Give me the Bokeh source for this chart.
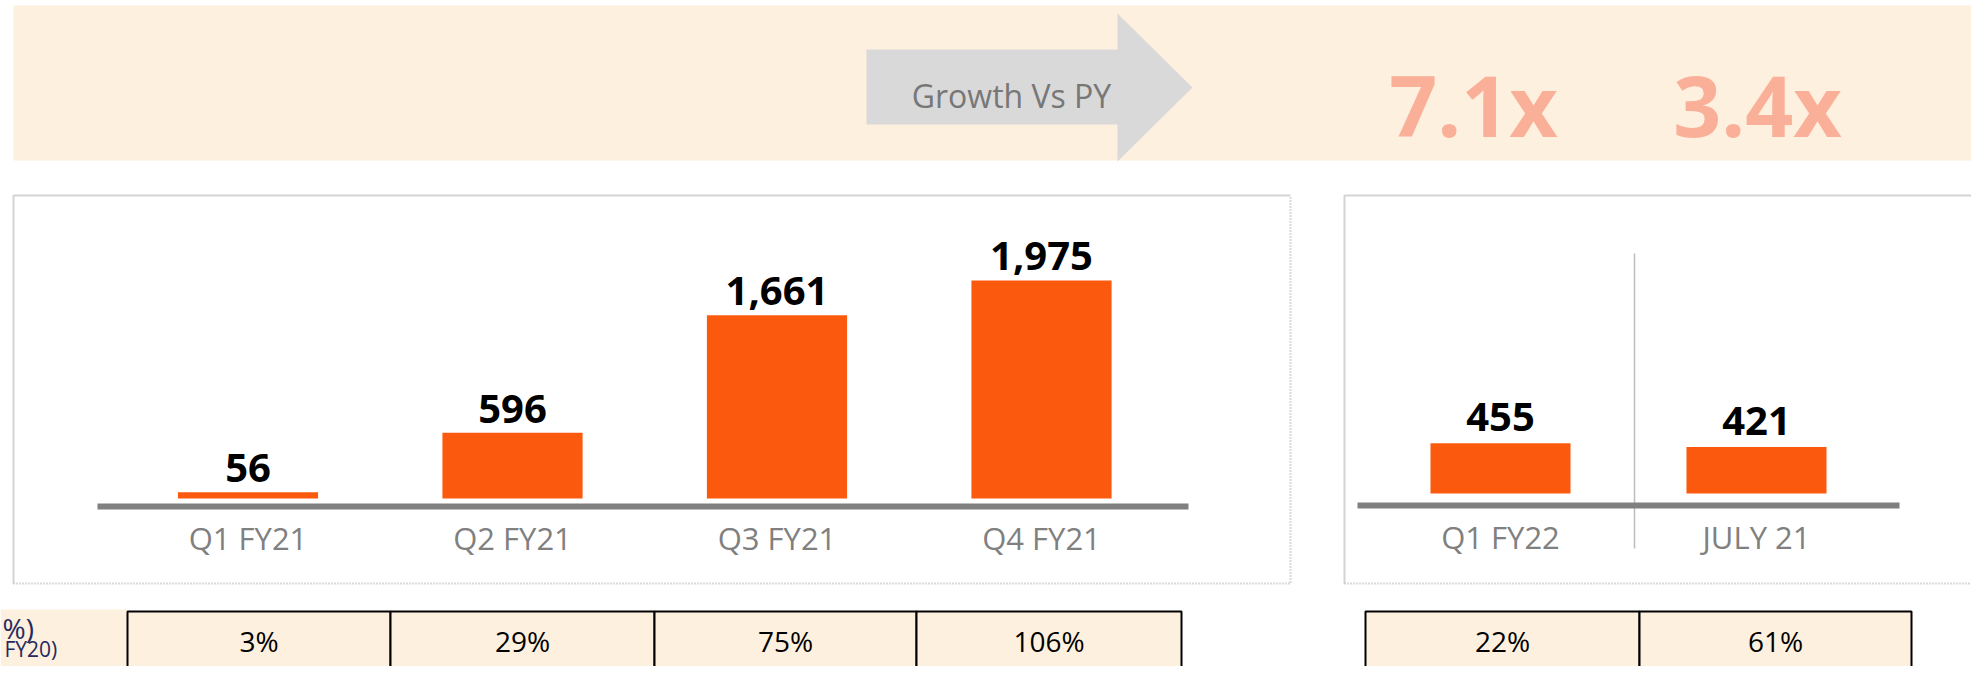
from bokeh.plotting import figure
from bokeh.models import Range1d, ColumnDataSource
from bokeh.core.properties import value
from bokeh.embed import file_html
from bokeh.resources import INLINE

# ---------------- data ----------------
fy21_quarters = ["Q1 FY21", "Q2 FY21", "Q3 FY21", "Q4 FY21"]
fy21_values = [56, 596, 1661, 1975]
fy21_growth = [3, 29, 75, 106]          # growth % vs FY20
recent_periods = ["Q1 FY22", "JULY 21"]
recent_values = [455, 421]
recent_growth = [22, 61]
growth_vs_py = ["7.1x", "3.4x"]
banner_text = "Growth Vs PY"
row_label = "%)"
row_sublabel = "FY20)"

# ---------------- layout / style ----------------
W, H = 1971, 666
PEACH = "#FEF0DE"
ORANGE = "#FB5A0E"
AXIS_GREY = "#808080"
FONT = value("Open Sans")


def X(sx):
    return sx


def Y(sy):
    return H - sy


p = figure(width=W, height=H, x_range=Range1d(0, W), y_range=Range1d(0, H),
           output_backend="svg", toolbar_location=None, min_border=0,
           x_axis_location=None, y_axis_location=None)
p.grid.visible = False
p.outline_line_color = None
p.background_fill_color = "white"
p.border_fill_color = "white"

# value scale: px per unit
K = 0.1104
# left chart ranges
l_c0, l_step = X(247.5), 264.5
p.extra_x_ranges["lx"] = Range1d(-l_c0 / l_step, -l_c0 / l_step + W / l_step)
l_zero = Y(498)
p.extra_y_ranges["lv"] = Range1d(-l_zero / K, -l_zero / K + H / K)
# right chart ranges
r_c0, r_step = X(1500), 256.0
p.extra_x_ranges["rx"] = Range1d(-r_c0 / r_step, -r_c0 / r_step + W / r_step)
r_zero = Y(493)
p.extra_y_ranges["rv"] = Range1d(-r_zero / K, -r_zero / K + H / K)

# ---------------- banner ----------------
p.quad(left=X(13), right=X(1995), top=Y(5), bottom=Y(160),
       fill_color=PEACH, line_color=None)
p.patch(x=[X(866), X(1117), X(1117), X(1192), X(1117), X(1117), X(866)],
        y=[Y(49), Y(49), Y(13), Y(87), Y(161), Y(124), Y(124)],
        fill_color="#D9D9D9", line_color=None)
p.text(x=[X(1011)], y=[Y(95)], text=[banner_text], text_font=FONT,
       text_font_size="32px", text_color="#777777", text_align="center",
       text_baseline="alphabetic")
p.text(x=[X(1473), X(1757)], y=[Y(104), Y(104)], text=growth_vs_py,
       text_font=FONT, text_font_size="84px", text_font_style="bold",
       text_color="#F9AF98", text_align="center", text_baseline="alphabetic")

# ---------------- panel frames ----------------
for (x0, x1) in [(13, 1290), (1344, 1999)]:
    p.line(x=[X(x0), X(x0), X(x1)], y=[Y(583), Y(195), Y(195)],
           line_color="#D4D4D4", line_width=2)
    p.line(x=[X(x0), X(x1), X(x1)], y=[Y(583), Y(583), Y(195)],
           line_color="#B5B5B5", line_width=2, line_dash="1 2")

# ---------------- left bar chart ----------------
lsrc = ColumnDataSource(dict(
    idx=list(range(len(fy21_quarters))),
    cat=fy21_quarters,
    val=fy21_values,
    lab=[f"{v:,}" for v in fy21_values],
    base=[Y(537)] * len(fy21_quarters),
))
p.vbar(x="idx", top="val", bottom=0, width=0.53, source=lsrc,
       x_range_name="lx", y_range_name="lv", fill_color=ORANGE, line_color=None)
p.text(x="idx", y="val", text="lab", source=lsrc, x_range_name="lx",
       y_range_name="lv", y_offset=-24, text_font=FONT, text_font_size="40px",
       text_font_style="bold", text_color="black", text_align="center",
       text_baseline="alphabetic")
p.text(x="idx", y="base", text="cat", source=lsrc, x_range_name="lx",
       text_font=FONT, text_font_size="31px", text_color=AXIS_GREY,
       text_align="center", text_baseline="middle")
p.line(x=[X(97), X(1188)], y=[Y(506), Y(506)], line_color=AXIS_GREY, line_width=6)

# ---------------- right bar chart ----------------
rsrc = ColumnDataSource(dict(
    idx=list(range(len(recent_periods))),
    cat=recent_periods,
    val=recent_values,
    lab=[f"{v:,}" for v in recent_values],
    base=[Y(536)] * len(recent_periods),
))
p.segment(x0=[X(1634)], y0=[Y(253)], x1=[X(1634)], y1=[Y(548)],
          line_color="#BDBDBD", line_width=1.5)
p.vbar(x="idx", top="val", bottom=0, width=0.547, source=rsrc,
       x_range_name="rx", y_range_name="rv", fill_color=ORANGE, line_color=None)
p.text(x="idx", y="val", text="lab", source=rsrc, x_range_name="rx",
       y_range_name="rv", y_offset=-26, text_font=FONT, text_font_size="40px",
       text_font_style="bold", text_color="black", text_align="center",
       text_baseline="alphabetic")
p.text(x="idx", y="base", text="cat", source=rsrc, x_range_name="rx",
       text_font=FONT, text_font_size="31px", text_color=AXIS_GREY,
       text_align="center", text_baseline="middle")
p.line(x=[X(1357), X(1899)], y=[Y(505), Y(505)], line_color=AXIS_GREY, line_width=6)

# ---------------- growth table ----------------
p.quad(left=X(0), right=X(127), top=Y(609), bottom=Y(700),
       fill_color=PEACH, line_color=None)
p.text(x=[X(2)], y=[Y(627)], text=[row_label], text_font=FONT,
       text_font_size="28px", text_color="#262A5E", text_align="left",
       text_baseline="middle")
p.text(x=[X(4)], y=[Y(648)], text=[row_sublabel], text_font=FONT,
       text_font_size="21px", text_color="#262A5E", text_align="left",
       text_baseline="middle")

for edges, growth in [([127, 390, 654, 916, 1181], fy21_growth),
                      ([1365, 1639, 1911], recent_growth)]:
    lefts = [X(e) for e in edges[:-1]]
    rights = [X(e) for e in edges[1:]]
    tsrc = ColumnDataSource(dict(
        l=lefts, r=rights,
        cx=[(a + b) / 2 for a, b in zip(lefts, rights)],
        cy=[Y(640)] * len(growth),
        t=[f"{g}%" for g in growth],
    ))
    p.quad(left="l", right="r", top=Y(611), bottom=Y(700), source=tsrc,
           fill_color=PEACH, line_color="black", line_width=2)
    p.text(x="cx", y="cy", text="t", source=tsrc, text_font=FONT,
           text_font_size="28px", text_color="black", text_align="center",
           text_baseline="middle")

open("out.html", "w").write(file_html(p, INLINE))
